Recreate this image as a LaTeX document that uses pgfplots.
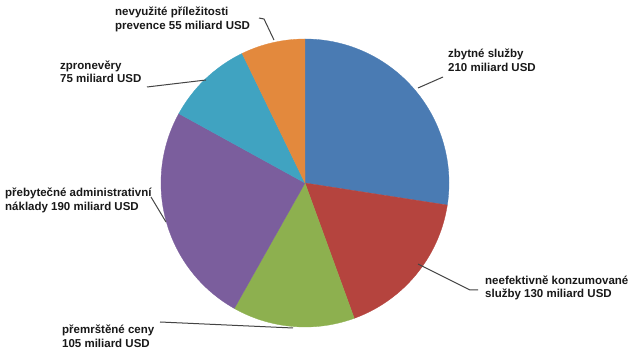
\documentclass[border=0pt]{standalone}
\usepackage{pgfplots}
\pgfplotsset{compat=1.18}
\usepackage{fontspec}
\setmainfont{Liberation Sans}
\definecolor{cblue}{HTML}{4A7BB3}
\definecolor{cred}{HTML}{B5443E}
\definecolor{cgreen}{HTML}{8DB04F}
\definecolor{cpurple}{HTML}{7B5E9D}
\definecolor{cteal}{HTML}{40A3C1}
\definecolor{corange}{HTML}{E3893D}
\definecolor{cline}{HTML}{444444}
% values (miliard USD)
\def\vA{210}\def\vB{130}\def\vC{105}\def\vD{190}\def\vE{75}\def\vF{55}
\pgfmathsetmacro\tot{\vA+\vB+\vC+\vD+\vE+\vF}
\pgfmathsetmacro\aA{90-\vA/\tot*360}
\pgfmathsetmacro\aB{\aA-\vB/\tot*360}
\pgfmathsetmacro\aC{\aB-\vC/\tot*360}
\pgfmathsetmacro\aD{\aC-\vD/\tot*360}
\pgfmathsetmacro\aE{\aD-\vE/\tot*360}
\pgfmathsetmacro\aF{\aE-\vF/\tot*360}
\begin{document}
\begin{tikzpicture}
\begin{axis}[scale only axis, width=640pt, height=358pt,
  xmin=0, xmax=640, ymin=0, ymax=358, hide axis, clip=false]
\fill[white] (axis cs:0,0) rectangle (axis cs:640,358);
\addplot[fill=cblue, draw=cblue, line width=0.3pt, domain=\aA:90, samples=90] ({305+144*cos(x)},{175+144*sin(x)}) -- (axis cs:305,175) -- cycle;
\addplot[fill=cred, draw=cred, line width=0.3pt, domain=\aB:\aA, samples=70] ({305+144*cos(x)},{175+144*sin(x)}) -- (axis cs:305,175) -- cycle;
\addplot[fill=cgreen, draw=cgreen, line width=0.3pt, domain=\aC:\aB, samples=60] ({305+144*cos(x)},{175+144*sin(x)}) -- (axis cs:305,175) -- cycle;
\addplot[fill=cpurple, draw=cpurple, line width=0.3pt, domain=\aD:\aC, samples=90] ({305+144*cos(x)},{175+144*sin(x)}) -- (axis cs:305,175) -- cycle;
\addplot[fill=cteal, draw=cteal, line width=0.3pt, domain=\aE:\aD, samples=40] ({305+144*cos(x)},{175+144*sin(x)}) -- (axis cs:305,175) -- cycle;
\addplot[fill=corange, draw=corange, line width=0.3pt, domain=\aF:\aE, samples=30] ({305+144*cos(x)},{175+144*sin(x)}) -- (axis cs:305,175) -- cycle;
% leader lines
\draw[cline, line width=1pt] (axis cs:259,340) -- (axis cs:264,339) -- (axis cs:274,318);
\draw[cline, line width=1pt] (axis cs:443,281) -- (axis cs:418,270);
\draw[cline, line width=1pt] (axis cs:147,271) -- (axis cs:206,278);
\draw[cline, line width=1pt] (axis cs:151,161) -- (axis cs:166,136);
\draw[cline, line width=1pt] (axis cs:418,94) -- (axis cs:470,68) -- (axis cs:478,68);
\draw[cline, line width=1pt] (axis cs:160,36) -- (axis cs:293,30);
% labels
\tikzset{lab/.style={anchor=base west, inner sep=0pt, text=black!90, font=\bfseries\fontsize{11.5}{14}\selectfont}}
\node[lab] at (axis cs:115,342) {nevyužité příležitosti};
\node[lab] at (axis cs:115,328) {prevence 55 miliard USD};
\node[lab] at (axis cs:448,300) {zbytné služby};
\node[lab] at (axis cs:448,286) {210 miliard USD};
\node[lab] at (axis cs:60,288) {zpronevěry};
\node[lab] at (axis cs:60,275) {75 miliard USD};
\node[lab] at (axis cs:5,161) {přebytečné administrativní};
\node[lab] at (axis cs:5,147) {náklady 190 miliard USD};
\node[lab] at (axis cs:485,73) {neefektivně konzumované};
\node[lab] at (axis cs:485,60) {služby 130 miliard USD};
\node[lab] at (axis cs:62,24) {přemrštěné ceny};
\node[lab] at (axis cs:62,10) {105 miliard USD};
\end{axis}
\end{tikzpicture}
\end{document}
